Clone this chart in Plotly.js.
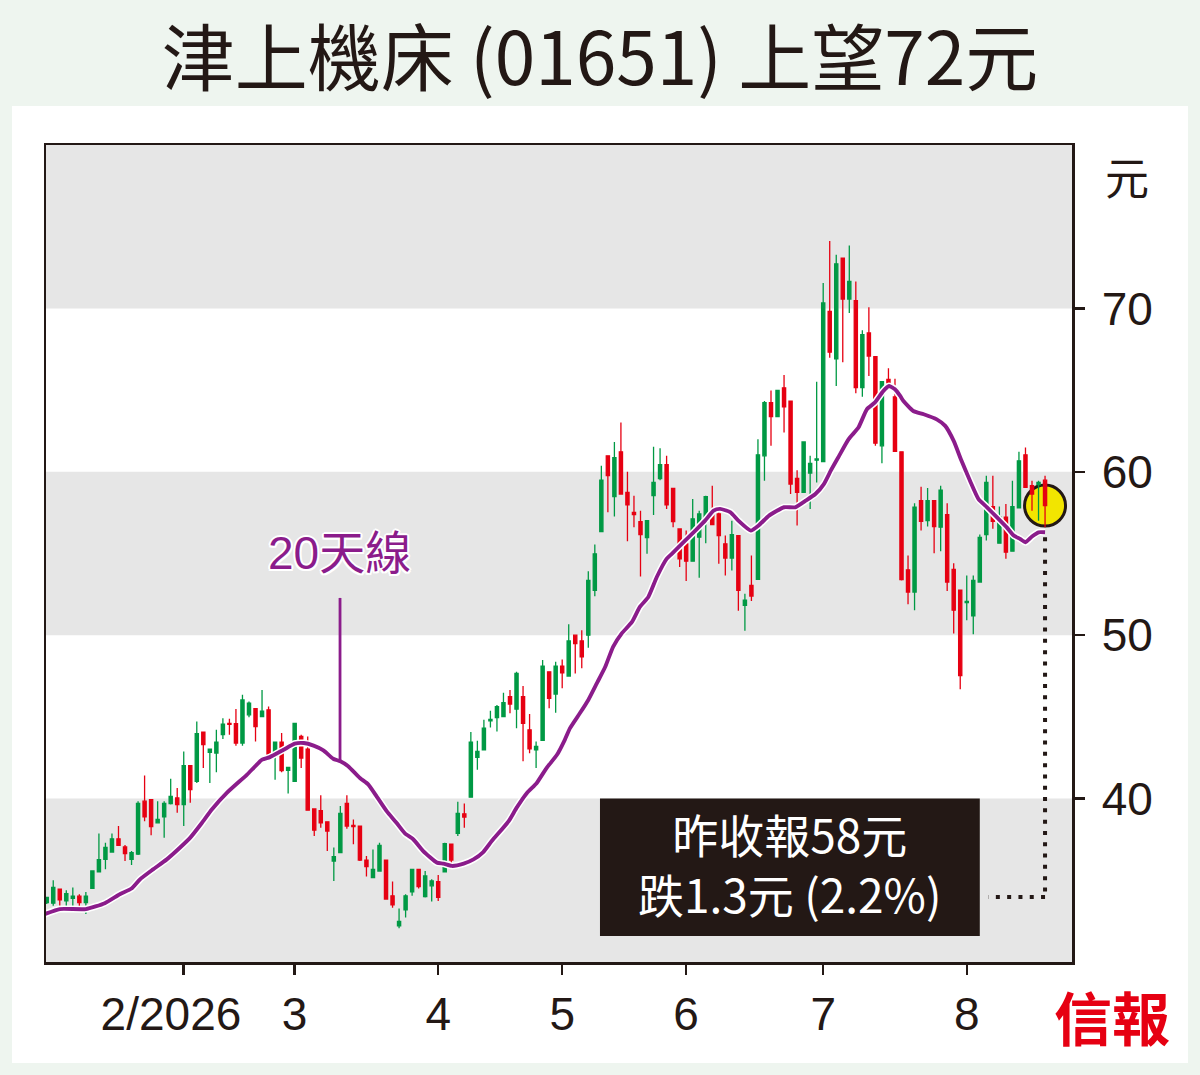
<!DOCTYPE html>
<html>
<head>
<meta charset="utf-8">
<script src="https://cdn.plot.ly/plotly-3.0.1.min.js"></script>
<style>
  html, body { margin: 0; padding: 0; background: #eef5ef; }
  #chart { width: 1200px; height: 1075px; }
</style>
</head>
<body>
<div id="chart"></div>
<script>
// ---- Data ----
const openP = [33.64,33.60,34.46,33.74,33.89,34.03,33.64,34.50,35.51,36.28,
36.73,37.54,37.04,36.28,36.61,39.84,39.94,38.52,38.89,39.70,
40.04,39.64,42.02,41.06,44.07,42.83,42.79,43.91,44.60,44.58,
43.40,45.13,45.51,45.02,45.43,42.59,43.46,41.73,41.06,43.81,
43.03,39.37,39.27,38.58,36.18,36.69,39.70,38.36,38.32,36.24,
35.17,35.57,36.24,34.05,32.22,33.19,34.29,35.67,34.01,34.66,
34.92,35.51,37.22,37.87,39.07,40.09,42.52,42.99,44.76,44.96,
45.02,46.24,45.47,46.24,44.21,42.99,43.56,47.76,46.40,48.11,
47.50,50.00,49.65,50.00,52.74,56.34,60.98,58.48,61.22,58.74,
57.52,56.95,55.98,58.54,59.59,60.43,58.98,56.50,55.59,54.53,
56.00,56.91,57.62,57.42,55.59,54.72,56.10,51.83,53.05,53.42,
60.98,64.23,63.38,65.14,64.33,59.59,58.74,59.92,60.71,60.63,
69.82,66.92,73.07,70.57,70.47,65.15,68.50,67.04,61.59,65.65,
64.58,61.22,54.00,52.64,58.23,57.01,58.23,56.61,57.38,54.03,
52.75,52.00,51.18,53.25,56.16,57.87,55.63,57.22,55.14,57.79,
61.04,59.15,59.21,59.49];

const highP = [34.00,35.00,34.46,34.39,34.56,34.15,34.29,35.57,37.87,37.30,
37.87,38.32,37.16,36.79,39.84,41.41,39.94,39.84,39.84,41.22,
40.65,42.89,42.02,44.72,44.07,43.03,44.21,44.92,44.88,45.49,
46.35,45.94,45.51,46.65,45.63,43.46,44.01,41.91,44.60,43.91,
43.80,39.37,40.21,38.58,37.00,39.54,40.21,38.72,38.32,36.49,
36.89,37.30,36.24,34.92,33.28,34.15,35.67,35.67,35.57,35.06,
35.33,37.30,37.22,39.80,39.70,44.07,43.54,44.82,45.37,45.73,
46.48,46.65,47.76,46.89,45.18,43.50,48.48,47.76,48.37,48.52,
50.67,50.00,50.30,53.92,55.55,60.37,60.98,61.83,63.01,60.00,
58.54,57.62,57.01,61.54,61.44,60.98,58.98,56.50,56.40,58.33,
57.62,58.54,59.15,57.52,56.10,57.01,56.10,52.54,54.88,61.99,
64.33,64.98,64.98,65.92,64.33,60.10,61.83,60.98,65.51,71.55,
74.13,73.28,73.07,73.85,71.65,68.66,70.07,67.04,65.51,66.33,
65.70,61.22,54.88,58.07,59.09,59.01,58.23,59.15,58.07,54.41,
52.75,53.66,53.66,56.16,59.76,59.76,57.87,58.03,59.45,61.22,
61.48,59.45,59.45,59.76];

const lowP = [33.55,33.44,33.34,33.24,33.24,33.34,32.93,34.50,35.51,35.67,
36.69,37.10,36.18,35.94,36.55,38.62,37.75,38.48,37.61,39.64,
39.13,38.32,39.74,40.96,41.87,40.96,41.61,43.64,43.91,43.24,
43.24,44.98,43.50,44.98,42.59,41.16,41.61,40.31,41.06,41.87,
39.29,37.71,38.22,36.79,34.96,36.69,38.15,37.20,36.18,35.23,
35.17,35.57,33.85,33.32,32.06,32.73,34.05,34.50,33.95,33.70,
33.74,35.51,35.88,37.71,38.22,40.09,41.77,42.99,44.35,44.11,
45.02,45.22,44.31,42.28,42.78,41.87,43.56,45.53,45.26,46.75,
47.50,47.66,47.97,49.23,52.38,56.34,57.52,57.26,58.64,55.75,
56.61,53.60,54.98,57.36,59.49,57.72,56.61,54.17,53.31,54.53,
53.52,55.63,56.77,54.37,53.66,53.96,51.49,50.27,52.10,53.42,
59.45,61.59,63.38,62.40,58.64,56.71,58.74,57.73,59.35,60.63,
66.98,65.25,66.71,69.72,64.80,64.60,65.86,61.59,60.53,65.15,
61.25,53.35,51.89,51.52,56.40,56.65,55.02,55.14,52.70,50.10,
46.69,50.92,50.06,53.25,55.79,56.51,55.63,54.68,55.14,57.79,
59.05,57.62,57.01,56.61];

const closeP = [33.95,34.56,33.80,34.19,34.03,33.64,34.03,35.57,36.26,37.02,
37.54,37.14,36.63,36.69,39.70,38.89,38.28,38.72,39.70,40.13,
39.64,42.02,40.55,43.97,43.30,43.03,43.46,44.56,44.54,43.40,
46.04,45.84,44.41,45.35,42.63,43.46,41.71,41.91,44.60,42.48,
39.29,38.07,38.52,38.01,36.45,39.09,38.32,38.28,36.24,35.84,
35.67,37.14,33.85,33.50,32.48,34.05,35.67,34.62,35.27,34.96,
33.95,37.24,36.24,39.09,38.87,43.46,42.89,44.31,44.84,45.63,
45.87,45.79,47.66,44.61,43.05,43.19,48.11,46.14,48.11,47.70,
49.65,49.49,48.68,53.35,54.98,59.49,59.76,60.87,58.64,57.97,
57.38,56.16,57.01,59.35,60.43,57.97,56.95,54.68,54.53,57.12,
57.42,58.48,56.77,56.10,54.72,56.16,52.74,52.14,52.40,61.04,
64.23,63.38,64.98,63.97,59.25,58.74,61.83,60.51,60.79,70.33,
67.32,72.73,70.57,71.65,65.15,68.40,67.08,61.75,65.51,65.45,
61.25,53.40,52.64,57.83,56.97,58.23,56.65,58.88,53.25,51.53,
47.52,52.07,53.35,55.98,59.35,56.97,57.22,55.08,57.87,60.67,
59.05,58.64,59.35,57.93];

// 20-day moving average (trading-day position, price)
const maX = [-0.3,2,6,8.9,11.2,13,14.3,16.3,18.4,20.4,22,23.8,25.3,27.6,30.7,33,34.2,36.3,38,39.4,
40.9,42.4,43.9,45,46.2,48,49.3,50.6,52.1,53.6,54.9,56.2,57.7,59.8,60.8,62.1,63.9,65.4,66.9,68.2,
70.8,72,73.6,75.1,76.6,78.2,79.4,80.2,81.7,83,84.3,85.6,86.8,88.1,89.7,90.9,92.2,93.5,95,95.8,
97.6,99.4,100.9,102.2,103.2,104.8,106,107.9,109.1,110.7,113,114.7,116.3,117.8,119.1,120.2,121.3,122.9,124.4,125.7,
126.9,128.2,129.1,130,130.8,131.3,132.8,134.4,136.4,137.7,139,140.2,141.5,142.8,144.1,145.6,147.1,148.2,149.2,150,
151,152,153];
const maY = [32.93,33.24,33.24,33.6,34.15,34.5,35.06,35.67,36.28,36.99,37.61,38.52,39.33,40.35,41.47,42.38,42.54,42.99,43.36,43.4,
43.24,42.95,42.44,42.28,41.98,41.26,40.86,40.11,39.23,38.52,37.87,37.5,36.79,36.08,36.02,35.88,36.02,36.28,36.73,37.4,
38.62,39.43,40.35,40.96,41.87,42.68,43.6,44.31,45.22,46.04,47.05,48.07,49.29,50.1,50.81,51.73,52.34,53.56,54.67,54.98,
55.69,56.4,57.01,57.62,57.73,57.52,57.01,56.4,56.71,57.32,57.83,57.83,58.23,58.64,59.25,60.1,60.88,62.0,62.71,63.83,
64.23,64.94,65.25,65.05,64.64,64.33,63.72,63.52,63.21,62.81,61.89,60.67,59.45,58.33,57.83,57.22,56.61,56.1,55.89,55.69,
56.04,56.3,56.3];

const monthTickIdx = [21, 38, 60, 79, 98, 119, 141];
const monthLabels = ['2/2026\u00a0\u00a0', '3', '4', '5', '6', '7', '8'];
const priceTicks = [40, 50, 60, 70];
const bandRanges = [[70, 80], [50, 60], [30, 40]];

const titleText = '津上機床 (01651) 上望72元';
const maLabel = '20天線';
const boxLines = ['昨收報58元', '跌1.3元 (2.2%)'];
const unitLabel = '元';
const logoText = '信報';

// ---- Derived ----
const dayIdx = closeP.map((_, i) => i);
const lastIdx = dayIdx[dayIdx.length - 1];
const lastClose = closeP[closeP.length - 1];

const INK = '#231815';
const PURPLE = '#8b1c8b';
const NUMFONT = 'Liberation Sans, Arial, sans-serif';
const CJKFONT = 'Noto Sans CJK TC, Noto Sans CJK SC, sans-serif';

const traces = [
  {
    type: 'candlestick',
    x: dayIdx, open: openP, high: highP, low: lowP, close: closeP,
    increasing: { line: { color: '#009944', width: 1.3 }, fillcolor: '#009944' },
    decreasing: { line: { color: '#e60012', width: 1.3 }, fillcolor: '#e60012' },
    hoverinfo: 'skip', showlegend: false
  },
  {
    type: 'scatter', mode: 'lines', x: maX, y: maY,
    line: { color: '#ffffff', width: 7, shape: 'spline', smoothing: 0.5 },
    hoverinfo: 'skip', showlegend: false
  },
  {
    type: 'scatter', mode: 'lines', x: maX, y: maY,
    line: { color: PURPLE, width: 3.9, shape: 'spline', smoothing: 0.5 },
    hoverinfo: 'skip', showlegend: false
  }
];

const shapes = [
  // white panel
  { type: 'rect', xref: 'paper', yref: 'paper', x0: -0.0331, x1: 1.1131, y0: -0.1236, y1: 1.0477,
    fillcolor: '#ffffff', line: { width: 0 }, layer: 'below' }
];
bandRanges.forEach(r => shapes.push({
  type: 'rect', xref: 'paper', yref: 'y', x0: 0, x1: 1, y0: r[0], y1: r[1],
  fillcolor: '#e6e6e6', line: { width: 0 }, layer: 'below'
}));
shapes.push(
  // yellow circle around the last close
  { type: 'circle', xref: 'x', yref: 'y', xsizemode: 'pixel', ysizemode: 'pixel',
    xanchor: lastIdx, yanchor: lastClose, x0: -20.5, x1: 20.5, y0: -20.5, y1: 20.5,
    fillcolor: '#f2e500', line: { color: INK, width: 3 }, layer: 'below' },
  // dotted leader
  { type: 'line', xref: 'x', yref: 'y', x0: lastIdx, x1: lastIdx, y0: 56.0, y1: 33.98,
    line: { color: INK, width: 4, dash: '4px,7.3px' }, layer: 'above' },
  { type: 'line', xref: 'x', yref: 'y', x0: lastIdx, x1: 144.3, y0: 33.98, y1: 33.98,
    line: { color: INK, width: 4, dash: '4px,7.3px' }, layer: 'above' },
  // black info box
  { type: 'rect', xref: 'x', yref: 'y', x0: 84.79, x1: 143.0, y0: 31.59, y1: 40.0,
    fillcolor: INK, line: { width: 0 }, layer: 'above' },
  // MA label pointer
  { type: 'line', xref: 'x', yref: 'y', x0: 44.95, x1: 44.95, y0: 52.28, y1: 42.3,
    line: { color: PURPLE, width: 2.8 }, layer: 'above' }
);

const annotations = [
  { xref: 'x', yref: 'y', x: 44.8, y: 55.03, text: maLabel, showarrow: false,
    xanchor: 'center', yanchor: 'middle',
    font: { family: 'Liberation Sans, Noto Sans CJK TC, sans-serif', size: 46, color: PURPLE,
            shadow: '2px 0 0 #fff, -2px 0 0 #fff, 0 2px 0 #fff, 0 -2px 0 #fff, 1.5px 1.5px 0 #fff, -1.5px -1.5px 0 #fff, 1.5px -1.5px 0 #fff, -1.5px 1.5px 0 #fff' } },
  { xref: 'x', yref: 'y', x: 113.9, y: 36.05, text: boxLines.join('<br>'), showarrow: false,
    xanchor: 'center', yanchor: 'middle', align: 'center',
    font: { family: CJKFONT, size: 46, color: '#ffffff' } },
  { xref: 'paper', yref: 'paper', x: 1.0536, y: 0.962, text: unitLabel, showarrow: false,
    xanchor: 'center', yanchor: 'middle',
    font: { family: CJKFONT, size: 44, color: INK } },
  { xref: 'paper', yref: 'paper', x: 1.039, y: -0.0661, text: logoText, showarrow: false,
    xanchor: 'center', yanchor: 'middle',
    font: { family: CJKFONT, size: 58, color: '#e60012', weight: 'bold' } }
];

const layout = {
  width: 1200, height: 1075,
  margin: { l: 46, r: 128, t: 145, b: 113 },
  paper_bgcolor: '#eef5ef',
  plot_bgcolor: '#ffffff',
  showlegend: false,
  hovermode: false,
  title: {
    text: titleText, xref: 'container', yref: 'container', x: 0.5, y: 0.945,
    xanchor: 'center', yanchor: 'middle',
    font: { family: CJKFONT, size: 73, color: INK }
  },
  xaxis: {
    range: [-0.11, 157.13], rangeslider: { visible: false },
    showgrid: false, zeroline: false,
    showline: true, mirror: true, linecolor: INK, linewidth: 2.5,
    ticks: 'outside', ticklen: 10, tickwidth: 2.5, tickcolor: INK,
    tickmode: 'array', tickvals: monthTickIdx, ticktext: monthLabels,
    tickfont: { family: NUMFONT, size: 46, color: INK },
    ticklabelstandoff: 0, fixedrange: true
  },
  yaxis: {
    range: [30, 80], side: 'right',
    showgrid: false, zeroline: false,
    showline: true, mirror: true, linecolor: INK, linewidth: 2.5,
    ticks: 'outside', ticklen: 10, tickwidth: 2.5, tickcolor: INK,
    tickmode: 'array', tickvals: priceTicks, ticktext: priceTicks.map(String),
    tickfont: { family: NUMFONT, size: 46, color: INK },
    ticklabelstandoff: 8, fixedrange: true
  },
  shapes: shapes,
  annotations: annotations
};

Plotly.newPlot('chart', traces, layout, { displayModeBar: false, staticPlot: true });
</script>
</body>
</html>
